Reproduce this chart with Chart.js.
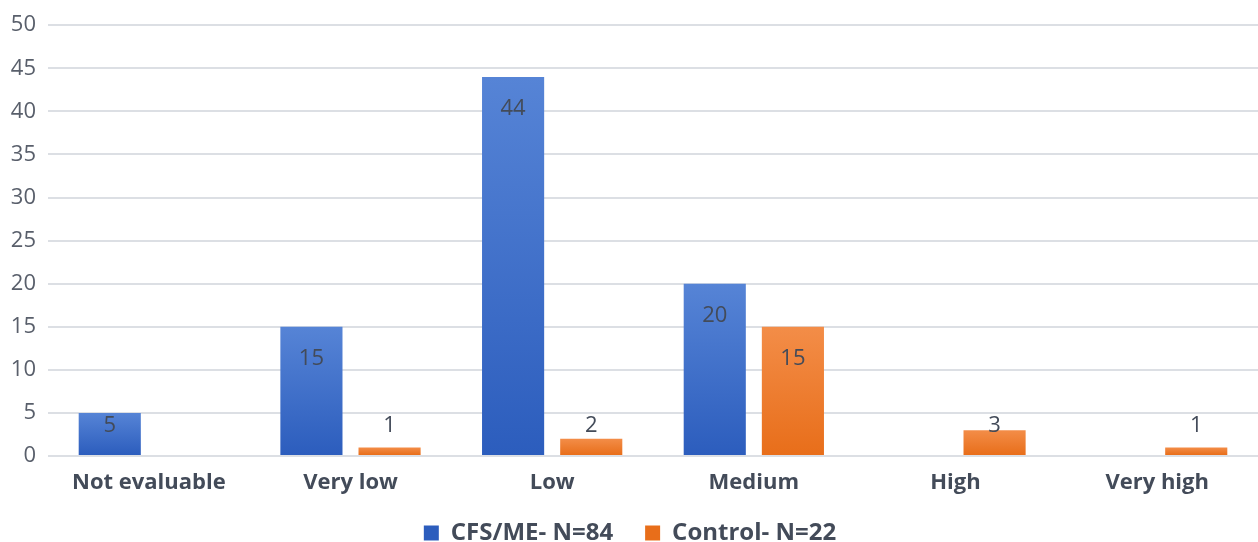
<!DOCTYPE html>
<html>
<head>
<meta charset="utf-8">
<script src="https://cdn.jsdelivr.net/npm/chart.js@4/dist/chart.umd.min.js"></script>
<style>
  html, body { margin: 0; padding: 0; background: #ffffff; overflow: hidden; }
  #wrap { width: 1258px; height: 542px; overflow: hidden; }
  #c { display: block; }
</style>
</head>
<body>
<div id="wrap"><canvas id="c" width="1258" height="564"></canvas></div>
<script>
const categories = ['Not evaluable', 'Very low', 'Low', 'Medium', 'High', 'Very high'];
const cfsValues = [5, 15, 44, 20, 0, 0];
const controlValues = [0, 1, 2, 15, 3, 1];
const seriesNames = ['CFS/ME- N=84', 'Control- N=22'];
const yTicks = [0, 5, 10, 15, 20, 25, 30, 35, 40, 45, 50];

const FONT = '"Open Sans", "DejaVu Sans", sans-serif';
const TEXT = '#434b59';

// Vertical shading per bar: lighter at the top, deeper at the base
const shades = [
  ['#5684d6', '#2c5dbd'],
  ['#f38d48', '#e86e1a']
];

const barShading = {
  id: 'barShading',
  beforeDatasetsDraw(chart) {
    const ctx = chart.ctx;
    chart.data.datasets.forEach((ds, i) => {
      const meta = chart.getDatasetMeta(i);
      meta.data.forEach(el => {
        if (el.base - el.y < 1) return;
        const g = ctx.createLinearGradient(0, el.y, 0, el.base);
        g.addColorStop(0, shades[i][0]);
        g.addColorStop(1, shades[i][1]);
        el.options = Object.assign({}, el.options, { backgroundColor: g });
      });
    });
  }
};

// Value labels near the top end of each bar
const valueLabels = {
  id: 'valueLabels',
  afterDatasetsDraw(chart) {
    const ctx = chart.ctx;
    ctx.save();
    ctx.font = '22px ' + FONT;
    ctx.fillStyle = TEXT;
    ctx.textAlign = 'center';
    ctx.textBaseline = 'middle';
    chart.data.datasets.forEach((ds, i) => {
      const meta = chart.getDatasetMeta(i);
      meta.data.forEach((el, j) => {
        const v = ds.data[j];
        if (!v) return;
        const y = Math.min(el.y + 32, el.base - 29);
        ctx.fillText(String(v), el.x, y);
      });
    });
    ctx.restore();
  }
};

// Pull the legend row a little closer to the category labels
const legendLift = {
  id: 'legendLift',
  afterLayout(chart) {
    const lg = chart.legend;
    if (!lg) return;
    lg.top -= 9;
    lg.bottom -= 9;
  }
};

new Chart(document.getElementById('c'), {
  type: 'bar',
  data: {
    labels: categories,
    datasets: [
      { label: seriesNames[0], data: cfsValues, backgroundColor: shades[0][1], borderWidth: 0 },
      { label: seriesNames[1], data: controlValues, backgroundColor: shades[1][1], borderWidth: 0 }
    ]
  },
  options: {
    responsive: false,
    animation: false,
    devicePixelRatio: 1,
    categoryPercentage: 0.775,
    barPercentage: 0.795,
    layout: { padding: { top: 14, right: 0, left: 2, bottom: 0 } },
    plugins: {
      tooltip: { enabled: false },
      legend: {
        position: 'bottom',
        labels: {
          boxWidth: 15,
          boxHeight: 15,
          padding: 32,
          color: TEXT,
          font: { family: FONT, size: 24, weight: 'bold' },
          generateLabels(chart) {
            return chart.data.datasets.map((ds, i) => ({
              text: ds.label,
              fillStyle: shades[i][1],
              strokeStyle: shades[i][1],
              lineWidth: 0,
              datasetIndex: i,
              fontColor: TEXT
            }));
          }
        }
      }
    },
    scales: {
      x: {
        afterFit(scale) { scale.height = 42; },
        grid: { display: false, drawTicks: false },
        border: { display: false },
        ticks: {
          color: TEXT,
          padding: 14,
          font: { family: FONT, size: 22, weight: 'bold' },
          maxRotation: 0
        }
      },
      y: {
        min: 0,
        max: 50,
        afterBuildTicks(scale) { scale.ticks = yTicks.map(v => ({ value: v })); },
        afterFit(scale) { scale.width = 46; },
        border: { display: false },
        grid: { color: '#dcdfe4', lineWidth: 2, drawTicks: false },
        ticks: {
          color: '#595f6b',
          padding: 12,
          font: { family: FONT, size: 22 }
        }
      }
    }
  },
  plugins: [barShading, valueLabels, legendLift]
});
</script>
</body>
</html>
